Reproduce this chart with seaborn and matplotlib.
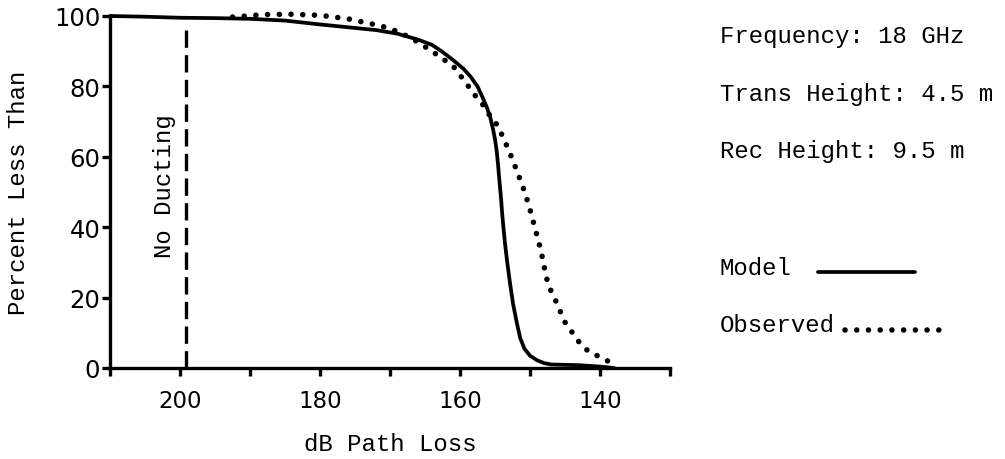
import matplotlib
matplotlib.use("Agg")
import matplotlib.pyplot as plt
from matplotlib.lines import Line2D
import seaborn as sns

# Cumulative distribution of path loss: model prediction
model_loss = [210, 205, 200, 195, 190, 185, 180, 176, 172, 169, 166, 164,
              162.5, 161, 159.5, 158.5, 157.5, 156.8, 156.2, 155.7, 155.3,
              155.0, 154.75, 154.55, 154.35, 154.15, 153.98, 153.8, 153.55,
              153.25, 152.85, 152.4, 151.9, 151.4, 150.8, 150.0, 149.0,
              148.0, 147.0, 143.0, 140.0, 138.0]
model_pct = [100, 99.8, 99.5, 99.4, 99.2, 98.7, 97.6, 96.8, 96.0, 95.0, 93.3,
             91.8, 89.8, 87.5, 85.0, 82.8, 80.0, 77.0, 74.2, 71.4, 68.0, 65.0,
             61.5, 57.4, 52.8, 48.5, 44.0, 40.0, 35.0, 30.0, 24.0, 18.0, 13.0,
             8.5, 5.5, 3.5, 2.2, 1.4, 1.0, 0.8, 0.4, 0.0]

# Cumulative distribution of path loss: measurements
obs_loss = [192.5, 188, 184, 180, 176, 172.5, 170, 167, 165, 163, 161, 160,
            159, 158, 156.8, 155.7, 154.6, 153.8, 153, 152.3, 151.6, 151,
            150.4, 149.9, 149.4, 148.9, 148.4, 148, 147.6, 147, 146.3, 145.7,
            145, 144, 143, 141.7, 140, 138.1, 137.8]
obs_pct = [99.7, 100.4, 100.5, 100.2, 99.2, 97.7, 96.5, 93.8, 91.3, 88.6,
           85.8, 83.2, 80.6, 77.8, 75.0, 71.6, 68.8, 65.3, 61.7, 58.2, 54.5,
           51.4, 47.7, 44.3, 40.6, 36.9, 33.0, 29.0, 25.3, 21.9, 19.0, 16.2,
           13.0, 10.2, 7.4, 4.8, 3.1, 1.2, 0.4]

no_duct_loss = 199.2
no_duct_top = 98

x_ticks = [210, 200, 190, 180, 170, 160, 150, 140, 130]
x_tick_labels = ["", "200", "", "180", "", "160", "", "140", ""]
y_ticks = [0, 20, 40, 60, 80, 100]

info_lines = ["Frequency: 18 GHz", "Trans Height: 4.5 m", "Rec Height: 9.5 m"]
series_names = ["Model", "Observed"]

sns.set_theme(style="ticks")
plt.rcParams["font.family"] = ["Liberation Mono", "DejaVu Sans"]
plt.rcParams["text.color"] = "black"
plt.rcParams["axes.labelcolor"] = "black"

FS = 17.3
W, H = 1005, 460
fig = plt.figure(figsize=(W / 100, H / 100), dpi=100)
fig.patch.set_facecolor("white")
ax = fig.add_axes([110 / W, 1 - 369 / H, 560 / W, 352 / H])
ax.set_facecolor("white")

dot_style = (0, (0.01, 2.1))

sns.lineplot(x=model_loss, y=model_pct, ax=ax, color="black", lw=2.7,
             sort=False, estimator=None)
sns.lineplot(x=obs_loss, y=obs_pct, ax=ax, color="black", lw=4.0,
             sort=False, estimator=None)
obs_line = ax.lines[-1]
obs_line.set_linestyle(dot_style)
obs_line.set_dash_capstyle("round")
for ln in ax.lines:
    ln.set_clip_on(False)

ax.vlines(no_duct_loss, 0, no_duct_top, colors="black",
          linestyles=[(0, (5.2, 2.2))], lw=2.4)
ax.text(202.2, 52, "No Ducting", rotation=90, ha="center", va="center",
        fontsize=FS)

ax.set_xlim(210, 130)
ax.set_ylim(0, 100)
ax.set_xticks(x_ticks)
ax.set_xticklabels(x_tick_labels)
ax.set_yticks(y_ticks)
ax.set_yticklabels([str(v) for v in y_ticks])

sns.despine(ax=ax)
for side in ("left", "bottom"):
    ax.spines[side].set_linewidth(2.4)
    ax.spines[side].set_color("black")
ax.tick_params(axis="both", direction="out", length=6, width=2.4,
               color="black", labelcolor="black",
               labelfontfamily="DejaVu Sans")
ax.tick_params(axis="x", pad=9, labelsize=16.5)
ax.tick_params(axis="y", pad=1, labelsize=17.5)

ax.set_xlabel("dB Path Loss", fontsize=FS)
ax.xaxis.set_label_coords(0.5, -0.182)
ax.set_ylabel("Percent Less Than", fontsize=FS)
ax.yaxis.set_label_coords(-0.143, 0.5)

# Side annotations
for txt, yb in zip(info_lines, [0.907, 0.780, 0.656]):
    fig.text(0.716, yb, txt, fontsize=FS, va="baseline", ha="left")

# Hand-made key: label first, then a sample of the line
fig.text(0.716, 0.402, series_names[0], fontsize=FS, va="baseline")
fig.add_artist(Line2D([0.814, 0.910], [0.407, 0.407], color="black", lw=2.7,
                      transform=fig.transFigure))
fig.text(0.716, 0.278, series_names[1], fontsize=FS, va="baseline")
fig.add_artist(Line2D([0.841, 0.935], [0.280, 0.280], color="black", lw=4.0,
                      linestyle=dot_style, dash_capstyle="round",
                      transform=fig.transFigure))

fig.savefig("out.png", dpi=100, facecolor="white")
